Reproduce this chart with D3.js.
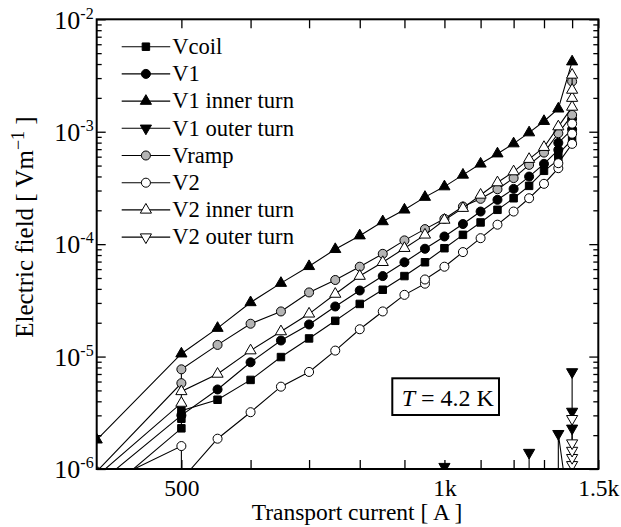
<!DOCTYPE html>
<html>
<head>
<meta charset="utf-8">
<script src="https://cdn.jsdelivr.net/npm/d3@7"></script>
<style>
    body { margin: 0; background: #fff; }
    svg { font-family: "Liberation Serif", "Times New Roman", Times, serif; }
    text { font-family: "Liberation Serif", "Times New Roman", Times, serif; fill: #000; }
</style>
</head>
<body>
<div id="chart"></div>
<script>
// DATA //
// [ current (A), electric field (V/m) ]
const vcoil = [
    [400, 5.3e-7], [500, 2.3e-6], [500, 2.8e-6], [500, 3.3e-6], [550, 4.13e-6], [600, 6.2e-6],
    [650, 9.9e-6], [700, 1.45e-5], [750, 2.08e-5], [800, 2.94e-5], [850, 3.93e-5], [900, 5.2e-5],
    [950, 6.9e-5], [1000, 9.2e-5], [1050, 1.21e-4], [1100, 1.56e-4], [1150, 2.02e-4], [1200, 2.56e-4],
    [1250, 3.3e-4], [1300, 4.49e-4], [1350, 5.6e-4], [1350, 6.35e-4], [1400, 8.5e-4], [1400, 1.0e-3]
]
const v1 = [
    [400, 7.2e-7], [500, 3.0e-6], [550, 5.1e-6], [600, 8.9e-6], [650, 1.39e-5], [700, 1.93e-5],
    [750, 2.79e-5], [800, 3.87e-5], [850, 5.2e-5], [900, 6.9e-5], [950, 9.1e-5], [1000, 1.17e-4],
    [1050, 1.51e-4], [1100, 1.95e-4], [1150, 2.48e-4], [1200, 3.1e-4], [1250, 3.99e-4], [1300, 5.18e-4],
    [1350, 6.9e-4], [1350, 7.96e-4], [1400, 1.05e-3], [1400, 1.3e-3]
]
const v1Inner = [
    [400, 1.82e-6], [500, 1.06e-5], [550, 1.79e-5], [600, 3.03e-5], [650, 4.5e-5], [700, 6.35e-5],
    [750, 9.0e-5], [800, 1.19e-4], [850, 1.59e-4], [900, 2.02e-4], [950, 2.62e-4], [1000, 3.25e-4],
    [1050, 4.13e-4], [1100, 5.18e-4], [1150, 6.38e-4], [1200, 7.84e-4], [1250, 9.82e-4], [1300, 1.24e-3],
    [1350, 1.6e-3], [1400, 4.2e-3]
]
const v1Outer = [
    [900, 2e-7], [950, 3e-7], [1000, 1.05e-6], [1050, 3e-7], [1100, 3e-7], [1150, 3e-7], [1200, 3.5e-7],
    [1250, 4e-7], [1250, 1.4e-6], [1250, 4e-7], [1300, 4e-7], [1350, 4e-7], [1350, 2.06e-6],
    [1400, 2.7e-7], [1400, 2.3e-6], [1400, 3.25e-6], [1400, 7.3e-6]
]
const vramp = [
    [400, 9.5e-7], [500, 5.8e-6], [500, 7.7e-6], [550, 1.27e-5], [600, 1.96e-5], [650, 2.52e-5],
    [700, 3.72e-5], [750, 4.8e-5], [800, 6.3e-5], [850, 8.2e-5], [900, 1.08e-4], [950, 1.36e-4],
    [1000, 1.68e-4], [1050, 2.16e-4], [1100, 2.53e-4], [1150, 3.08e-4], [1200, 3.87e-4], [1250, 5.07e-4],
    [1300, 6.52e-4], [1350, 9.7e-4], [1400, 1.41e-3], [1400, 2.8e-3]
]
const v2 = [
    [400, 6.9e-7], [500, 1.6e-6], [500, 8e-7], [550, 1.86e-6], [600, 3.2e-6], [650, 5.4e-6],
    [700, 7.3e-6], [750, 1.13e-5], [800, 1.75e-5], [850, 2.52e-5], [900, 3.54e-5], [950, 4.45e-5],
    [950, 4.85e-5], [1000, 6.3e-5], [1050, 8.5e-5], [1100, 1.13e-4], [1150, 1.49e-4], [1200, 1.95e-4],
    [1250, 2.56e-4], [1300, 3.44e-4], [1350, 4.74e-4], [1350, 5.25e-4], [1400, 7.8e-4], [1400, 9.6e-4],
    [1400, 1.18e-3]
]
const v2Inner = [
    [400, 8.6e-7], [500, 3.86e-6], [500, 4.9e-6], [550, 7.0e-6], [600, 1.13e-5], [650, 1.67e-5],
    [700, 2.4e-5], [750, 3.6e-5], [800, 5.2e-5], [850, 6.9e-5], [900, 9.2e-5], [950, 1.21e-4],
    [1000, 1.64e-4], [1050, 2.09e-4], [1100, 2.74e-4], [1150, 3.53e-4], [1200, 4.42e-4], [1250, 5.7e-4],
    [1300, 7.28e-4], [1350, 1.11e-3], [1400, 1.66e-3], [1400, 1.99e-3], [1400, 2.35e-3], [1400, 3.2e-3]
]
const v2Outer = [
    [1300, 2e-7], [1350, 2e-7], [1400, 1.09e-6], [1400, 1.26e-6], [1400, 1.46e-6], [1400, 1.7e-6],
    [1400, 2.8e-6]
]

const seriesNames = ["Vcoil", "V1", "V1 inner turn", "V1 outer turn", "Vramp", "V2", "V2 inner turn", "V2 outer turn"]
const seriesData = [vcoil, v1, v1Inner, v1Outer, vramp, v2, v2Inner, v2Outer]

// tick labels
const xTicks = [500, 600, 700, 800, 900, 1000, 1100, 1200, 1300, 1400, 1500]
const xLabelled = [500, 1000, 1500]
const xLabels = ["500", "1k", "1.5k"]
const yMajor = [1e-6, 1e-5, 1e-4, 1e-3, 1e-2]
const yExponents = ["-6", "-5", "-4", "-3", "-2"]

// MARKER STYLES //
const markerShape = ["square", "circle", "up", "down", "circle", "circle", "up", "down"]
const markerFill = ["#000", "#000", "#000", "#000", "#b4b4b4", "#fff", "#fff", "#fff"]

// GLOBAL VARIABLES //
let dimensions = {
    width: 621,
    height: 527,
    margin: {
        top: 19.3,
        right: 22.7,
        bottom: 58,
        left: 96.7,
    },
}
dimensions.boundedWidth = dimensions.width - dimensions.margin.left - dimensions.margin.right
dimensions.boundedHeight = dimensions.height - dimensions.margin.top - dimensions.margin.bottom

const xScale = d3.scaleLog()
    .domain([400, 1500])
    .range([0, dimensions.boundedWidth])

const yScale = d3.scaleLog()
    .domain([1e-6, 1e-2])
    .range([dimensions.boundedHeight, 0])

const xAccessor = d => d[0]
const yAccessor = d => d[1]

const symbols = {
    square: d3.symbol().type(d3.symbolSquare).size(56)(),
    circle: d3.symbol().type(d3.symbolCircle).size(64)(),
    up: d3.symbol().type(d3.symbolTriangle).size(54)(),
    down: d3.symbol().type(d3.symbolTriangle).size(54)(),
}

function drawMarker(sel, i) {
    sel.append("path")
        .attr("d", symbols[markerShape[i]])
        .attr("transform", markerShape[i] == "down" ? "rotate(180)" : null)
        .attr("fill", markerFill[i])
        .attr("stroke", "#000")
        .attr("stroke-width", 1)
}

// DRAW //
const wrapper = d3.select("#chart")
    .append("svg")
    .attr("width", dimensions.width)
    .attr("height", dimensions.height)

const bounds = wrapper.append("g")
    .attr("transform", `translate(${dimensions.margin.left}, ${dimensions.margin.top})`)

bounds.append("defs").append("clipPath")
    .attr("id", "plot-clip")
    .append("rect")
    .attr("width", dimensions.boundedWidth)
    .attr("height", dimensions.boundedHeight)

// minor y ticks (2..9 of each decade)
const yMinor = yMajor.slice(0, -1).flatMap(d => [2, 3, 4, 5, 6, 7, 8, 9].map(k => d * k))

// x axes (ticks inward, top and bottom)
const xAxisBottom = d3.axisBottom(xScale)
    .tickValues(xTicks)
    .tickSizeInner(-9)
    .tickSizeOuter(0)
    .tickFormat(d => {
        const i = xLabelled.indexOf(d)
        return i < 0 ? "" : xLabels[i]
    })

const xAxisG = bounds.append("g")
    .attr("transform", `translate(0, ${dimensions.boundedHeight})`)
    .call(xAxisBottom)
xAxisG.selectAll("text")
    .attr("y", 26.5)
    .attr("dy", null)
    .style("font-size", "23.5px")

bounds.append("g")
    .call(d3.axisTop(xScale).tickValues(xTicks).tickSizeInner(-9).tickSizeOuter(0).tickFormat(""))

// y axes
const yAxisLeft = d3.axisLeft(yScale)
    .tickValues(yMajor)
    .tickSizeInner(-9)
    .tickSizeOuter(0)
    .tickPadding(3)
    .tickFormat("")

const yAxisG = bounds.append("g").call(yAxisLeft)
yAxisG.selectAll(".tick text")
    .attr("dy", "0.34em")
    .style("font-size", "26px")
    .each(function(d, i) {
        const t = d3.select(this)
        t.append("tspan").text("10")
        t.append("tspan")
            .attr("dy", -10)
            .style("font-size", "16px")
            .text(yExponents[i])
    })

bounds.append("g")
    .call(d3.axisLeft(yScale).tickValues(yMinor).tickSizeInner(-5).tickSizeOuter(0).tickFormat(""))

bounds.append("g")
    .attr("transform", `translate(${dimensions.boundedWidth}, 0)`)
    .call(d3.axisRight(yScale).tickValues(yMajor).tickSizeInner(-9).tickSizeOuter(0).tickFormat(""))

bounds.append("g")
    .attr("transform", `translate(${dimensions.boundedWidth}, 0)`)
    .call(d3.axisRight(yScale).tickValues(yMinor).tickSizeInner(-5).tickSizeOuter(0).tickFormat(""))

bounds.selectAll(".domain").remove()
bounds.selectAll("g").attr("font-family", null)
bounds.selectAll(".tick line").attr("stroke", "#000").attr("stroke-width", 1.3)

// series
const lineGenerator = d3.line()
    .x(d => xScale(xAccessor(d)))
    .y(d => yScale(yAccessor(d)))

const plot = bounds.append("g").attr("clip-path", "url(#plot-clip)")

seriesData.forEach((data, i) => {
    const g = plot.append("g")
    g.append("path")
        .datum(data)
        .attr("d", lineGenerator)
        .attr("fill", "none")
        .attr("stroke", "#000")
        .attr("stroke-width", 1.1)

    g.selectAll(".marker")
        .data(data)
        .join("g")
        .attr("class", "marker")
        .attr("transform", d => `translate(${xScale(xAccessor(d))}, ${yScale(yAccessor(d))})`)
        .call(sel => drawMarker(sel, i))
})

// frame
bounds.append("rect")
    .attr("width", dimensions.boundedWidth)
    .attr("height", dimensions.boundedHeight)
    .attr("fill", "none")
    .attr("stroke", "#000")
    .attr("stroke-width", 2)

// legend
const legend = wrapper.append("g")
    .attr("transform", "translate(121.7, 46.7)")

seriesNames.forEach((name, i) => {
    const row = legend.append("g").attr("transform", `translate(0, ${i * 27.2})`)
    row.append("line")
        .attr("x1", 0)
        .attr("x2", 48.5)
        .attr("stroke", "#000")
        .attr("stroke-width", 1.1)
    row.append("g")
        .attr("transform", "translate(24.2, 0)")
        .call(sel => drawMarker(sel, i))
    row.append("text")
        .attr("x", 50.5)
        .attr("y", 7.3)
        .style("font-size", "22.6px")
        .text(name)
})

// temperature box
wrapper.append("rect")
    .attr("x", 392.3)
    .attr("y", 378.3)
    .attr("width", 106.7)
    .attr("height", 36.7)
    .attr("fill", "#fff")
    .attr("stroke", "#000")
    .attr("stroke-width", 2)

const tempText = wrapper.append("text")
    .attr("x", 401.7)
    .attr("y", 405.5)
    .style("font-size", "24px")
tempText.append("tspan").style("font-style", "italic").text("T")
tempText.append("tspan").text(" = 4.2 K")

// axis titles
wrapper.append("text")
    .attr("x", 357)
    .attr("y", 520)
    .attr("text-anchor", "middle")
    .style("font-size", "23.5px")
    .text("Transport current [ A ]")

const yTitle = wrapper.append("text")
    .attr("transform", "translate(33, 227) rotate(-90)")
    .attr("text-anchor", "middle")
    .style("font-size", "25px")
yTitle.append("tspan").text("Electric field [ Vm")
yTitle.append("tspan").attr("dy", -9).style("font-size", "18px").text("\u22121")
yTitle.append("tspan").attr("dy", 9).text(" ]")
</script>
</body>
</html>
